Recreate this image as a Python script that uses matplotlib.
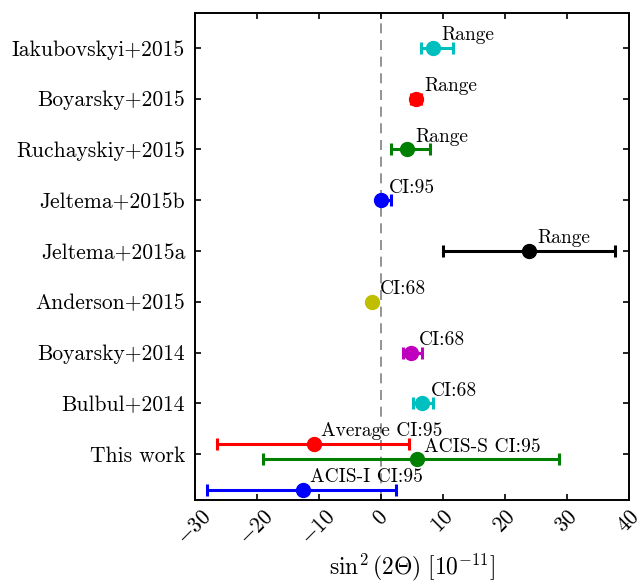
# Sterile neutrino mixing angle comparison: literature values vs this work
import matplotlib
matplotlib.use("Agg")
import matplotlib.pyplot as plt

plt.rcParams["font.family"] = "cmr10"
plt.rcParams["mathtext.fontset"] = "cm"
plt.rcParams["axes.formatter.use_mathtext"] = True
plt.rcParams["axes.unicode_minus"] = True

# Literature points (top to bottom on the plot)
labels = ["Iakubovskyi+2015", "Boyarsky+2015", "Ruchayskiy+2015", "Jeltema+2015b",
          "Jeltema+2015a", "Anderson+2015", "Boyarsky+2014", "Bulbul+2014"]
lit_y = [8, 7, 6, 5, 4, 3, 2, 1]
lit_x = [8.4, 5.7, 4.2, 0.0, 23.9, -1.5, 4.9, 6.7]
lit_lo = [6.5, 4.9, 1.7, -0.5, 10.0, -1.5, 3.5, 5.2]
lit_hi = [11.6, 6.5, 7.9, 1.7, 37.8, -1.5, 6.6, 8.4]
lit_note = ["Range", "Range", "Range", "CI:95", "Range", "CI:68", "CI:68", "CI:68"]
lit_col = ["c", "r", "g", "b", "k", "y", "m", "c"]

# This work (three estimates around y=0)
tw_y = [0.2, -0.1, -0.7]
tw_x = [-10.8, 5.8, -12.5]
tw_lo = [-26.5, -19.0, -28.0]
tw_hi = [4.6, 28.7, 2.5]
tw_note = ["Average CI:95", "ACIS-S CI:95", "ACIS-I CI:95"]
tw_col = ["r", "g", "b"]

fig = plt.figure(figsize=(6.41, 5.84), dpi=100)
ax = fig.add_axes([0.304, 0.144, 0.677, 0.834])

ax.axvline(0, color="grey", linestyle="--", linewidth=1.2, dashes=(6, 4), zorder=0)


def draw(xs, ys, lo, hi, cols, notes, dx):
    for x, y, l, h, c, n in zip(xs, ys, lo, hi, cols, notes):
        ax.errorbar(x, y, xerr=[[x - l], [h - x]], fmt="o", color=c, ms=10,
                    mec=c, elinewidth=2.2, capsize=4, capthick=2.2)
        ax.text(x + dx, y + 0.15, n, fontsize=14, ha="left", va="baseline")


draw(lit_x, lit_y, lit_lo, lit_hi, lit_col, lit_note, 1.3)
draw(tw_x, tw_y, tw_lo, tw_hi, tw_col, tw_note, 1.1)

ax.set_xlim(-30, 40)
ax.set_ylim(-0.9, 8.69)
ax.set_yticks(lit_y + [0])
ax.set_yticklabels(labels + ["This work"], fontsize=15.5)
ax.set_xticks(range(-30, 41, 10))
ax.tick_params(axis="x", labelsize=15.5, labelrotation=45, pad=5)
ax.tick_params(axis="y", pad=7)
ax.tick_params(direction="in", top=True, right=True, length=4, width=1.2)
for s in ax.spines.values():
    s.set_linewidth(1.4)
ax.set_xlabel(r"$\sin^2(2\Theta)\ [10^{-11}]$", fontsize=17, labelpad=2)

fig.savefig("out.png", dpi=100)
